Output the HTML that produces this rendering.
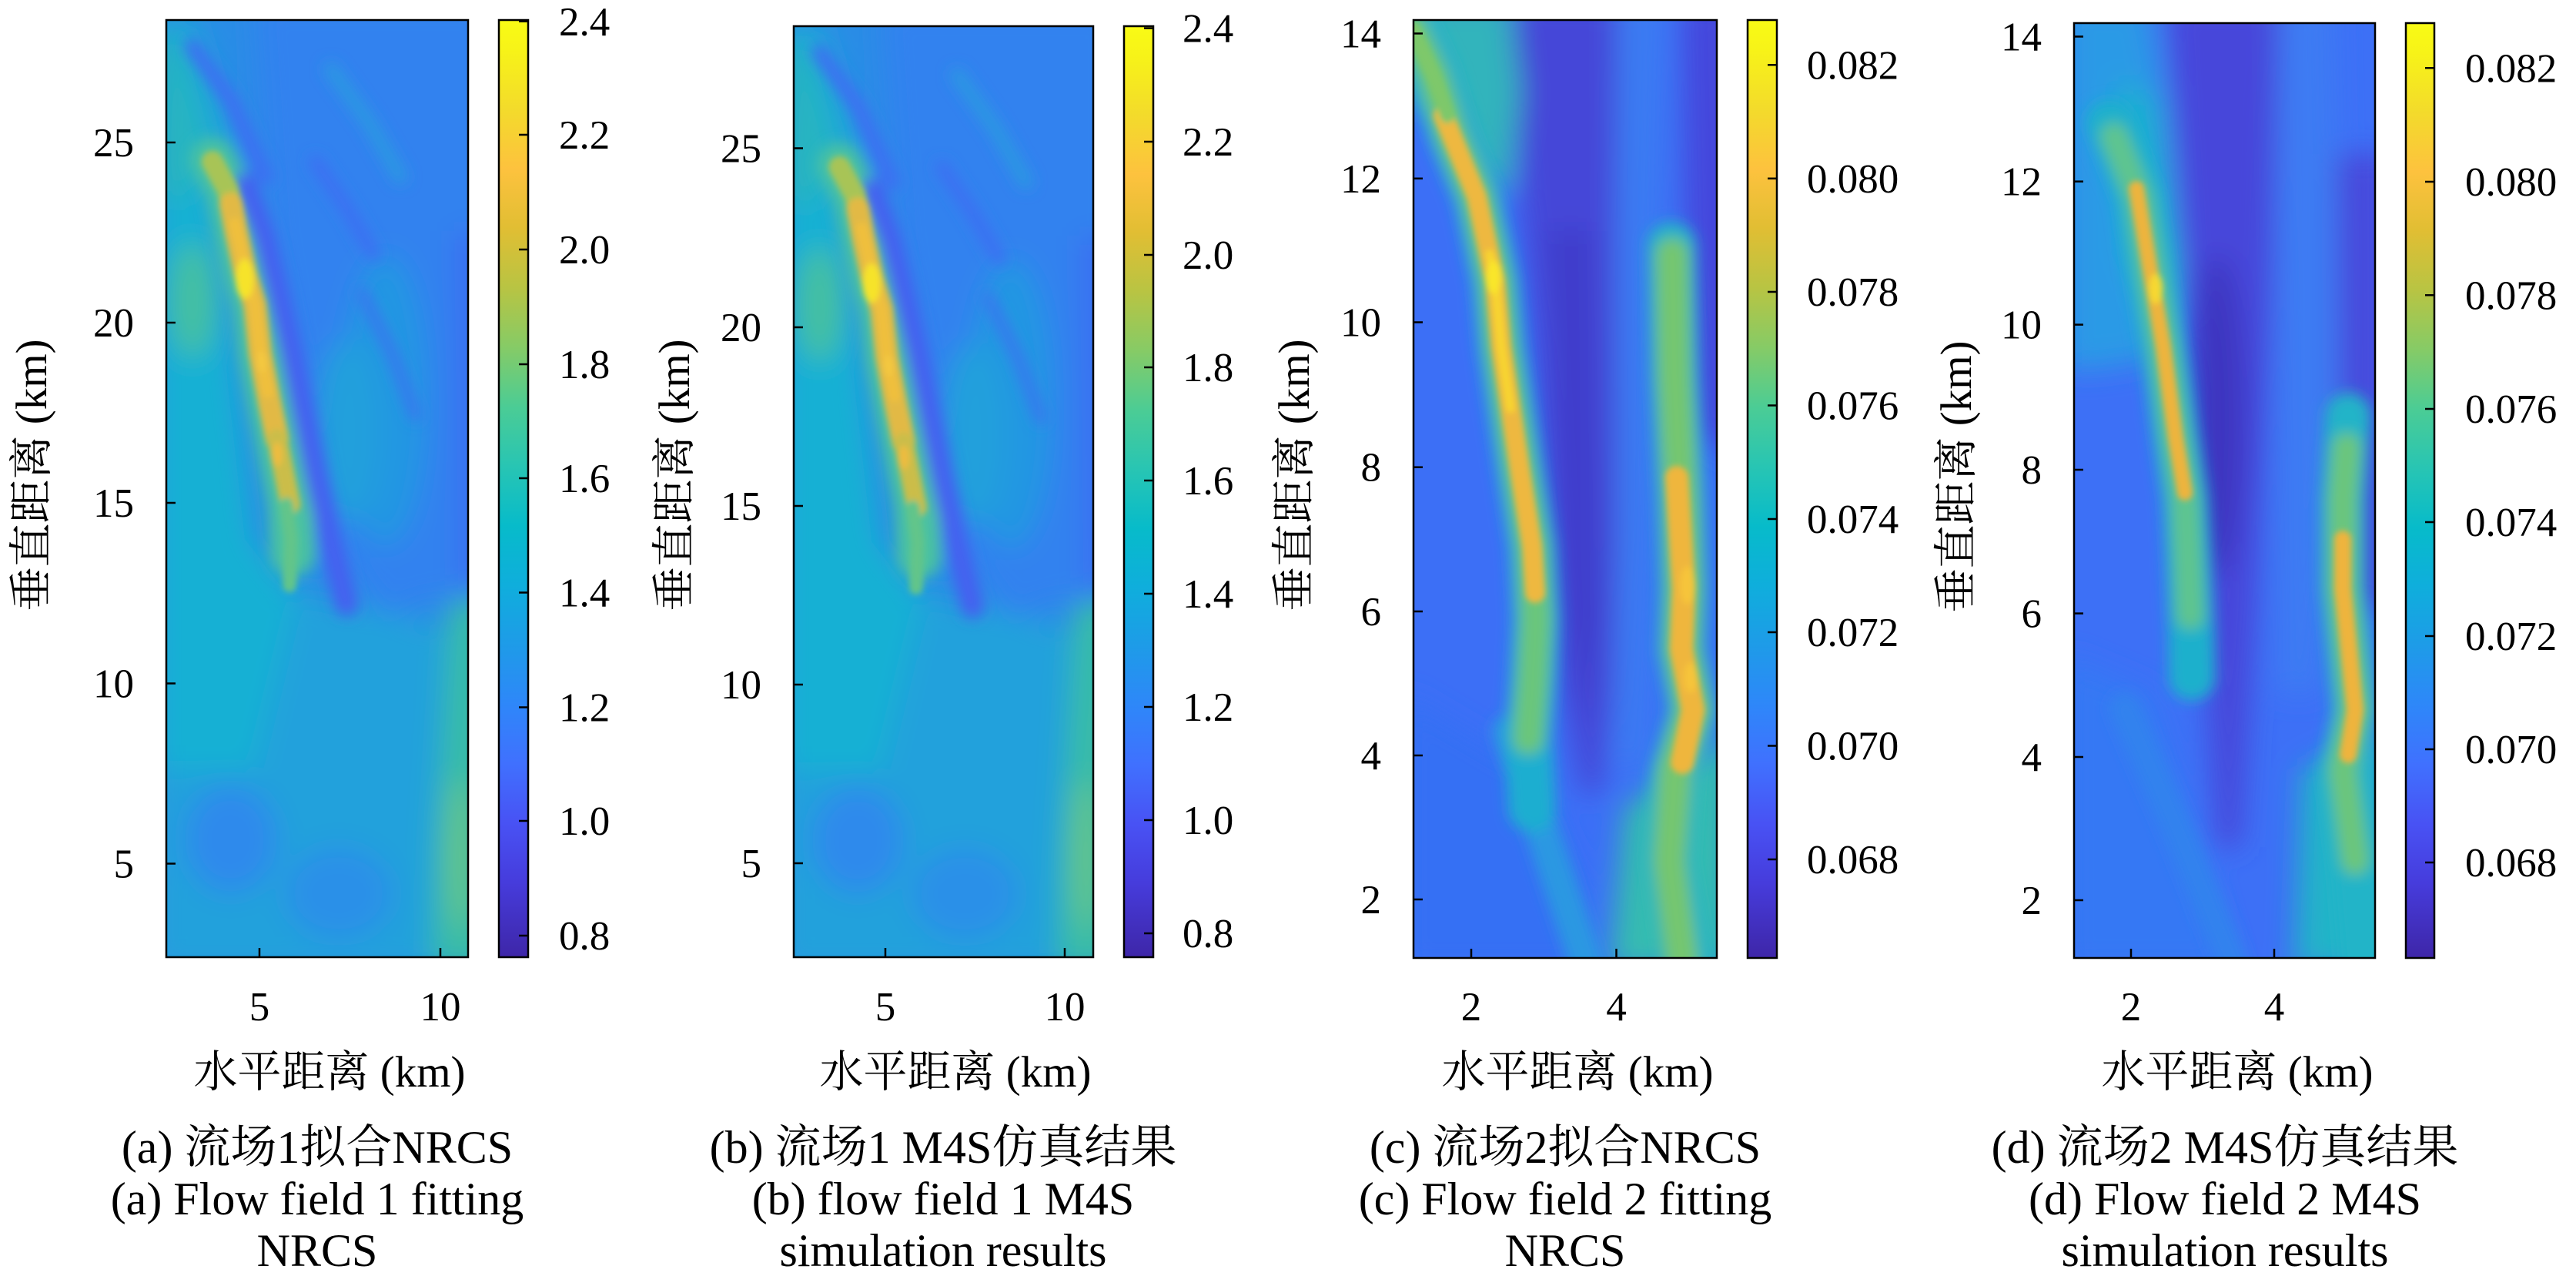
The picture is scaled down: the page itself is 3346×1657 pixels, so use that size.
<!DOCTYPE html>
<html><head><meta charset="utf-8"><style>
html,body{margin:0;padding:0;background:#fff;}
svg{display:block;font-family:"Liberation Serif","Times New Roman","DejaVu Serif","Noto Serif CJK SC","Noto Sans CJK SC",serif;}
.t{font-family:"Liberation Serif","Times New Roman","DejaVu Serif","Noto Serif CJK SC","Noto Sans CJK SC",serif;font-size:53px;fill:#000;}
.l{font-family:"Liberation Serif","Times New Roman","DejaVu Serif","Noto Serif CJK SC","Noto Sans CJK SC",serif;font-size:57px;fill:#000;}
.c{font-family:"Liberation Serif","Times New Roman","DejaVu Serif","Noto Serif CJK SC","Noto Sans CJK SC",serif;font-size:60px;fill:#000;}
</style></head><body>
<svg width="3346" height="1657" viewBox="0 0 3346 1657" xmlns="http://www.w3.org/2000/svg" font-family="Liberation Serif, Times New Roman, DejaVu Serif, Noto Serif CJK SC, Noto Sans CJK SC, serif">
<defs>
<linearGradient id="par" x1="0" y1="0" x2="0" y2="1">
<stop offset="0" stop-color="rgb(249,251,21)"/>
<stop offset="0.032" stop-color="rgb(247,243,24)"/>
<stop offset="0.095" stop-color="rgb(243,219,43)"/>
<stop offset="0.159" stop-color="rgb(253,194,62)"/>
<stop offset="0.222" stop-color="rgb(225,190,51)"/>
<stop offset="0.286" stop-color="rgb(184,196,67)"/>
<stop offset="0.349" stop-color="rgb(134,203,102)"/>
<stop offset="0.413" stop-color="rgb(75,204,149)"/>
<stop offset="0.476" stop-color="rgb(40,197,179)"/>
<stop offset="0.54" stop-color="rgb(7,187,202)"/>
<stop offset="0.603" stop-color="rgb(15,174,220)"/>
<stop offset="0.667" stop-color="rgb(30,155,232)"/>
<stop offset="0.73" stop-color="rgb(46,135,249)"/>
<stop offset="0.794" stop-color="rgb(64,112,254)"/>
<stop offset="0.857" stop-color="rgb(72,82,244)"/>
<stop offset="0.92" stop-color="rgb(70,60,220)"/>
<stop offset="1" stop-color="rgb(62,38,168)"/>
</linearGradient>
<filter id="fb" filterUnits="userSpaceOnUse" x="0" y="0" width="3346" height="1657"><feGaussianBlur stdDeviation="18"/></filter>
<filter id="fm" filterUnits="userSpaceOnUse" x="0" y="0" width="3346" height="1657"><feGaussianBlur stdDeviation="9"/></filter>
<filter id="fs" filterUnits="userSpaceOnUse" x="0" y="0" width="3346" height="1657"><feGaussianBlur stdDeviation="4"/></filter>
<clipPath id="ca"><rect x="216" y="26" width="392" height="1217"/></clipPath>
<clipPath id="cc"><rect x="1836" y="26" width="394" height="1218"/></clipPath>
<clipPath id="cd"><rect x="2694" y="30" width="391" height="1214"/></clipPath>

<g id="heatA">
<g clip-path="url(#ca)">
<rect x="216" y="26" width="392" height="1217" fill="#2a8ce6"/>
<g filter="url(#fb)">
<polygon points="330,0 640,0 640,760 500,800 420,700 350,300" fill="#3182ef"/>
<polygon points="200,720 640,830 640,1260 200,1260" fill="#21a1dc"/>
<ellipse cx="300" cy="1090" rx="60" ry="70" fill="#2d8aec"/>
<ellipse cx="440" cy="1160" rx="70" ry="60" fill="#2a90e8"/>
<polygon points="200,150 275,200 330,700 385,770 330,1000 200,1000" fill="#14b0d4"/>
<polygon points="200,26 255,26 300,180 280,260 200,210" fill="#1eaad6"/>
<ellipse cx="250" cy="390" rx="30" ry="75" fill="#45c0a0"/>
<polygon points="200,40 235,60 270,200 240,260 200,260" fill="#25b5c0"/>
<polygon points="585,780 640,780 640,1260 560,1260 565,1100" fill="#38bca8"/>
<ellipse cx="598" cy="1110" rx="14" ry="100" fill="#6cc682"/>
<polygon points="590,300 640,300 640,760 595,760" fill="#3a70f2"/>
<ellipse cx="500" cy="520" rx="55" ry="190" fill="#2497e2"/>
<ellipse cx="450" cy="560" rx="40" ry="120" fill="#20a0dc"/>
</g>
<g filter="url(#fm)">
<polyline points="250,60 300,130 345,230" fill="none" stroke="#3e6ef3" stroke-width="20" stroke-linecap="round"/>
<polyline points="410,210 450,270 485,330" fill="none" stroke="#3e6ef3" stroke-width="16" stroke-linecap="round"/>
<polyline points="430,90 480,160 520,230" fill="none" stroke="#2a98e2" stroke-width="18" stroke-linecap="round"/>
<polyline points="470,380 510,460 540,540" fill="none" stroke="#3a74f0" stroke-width="14" stroke-linecap="round"/>
<polyline points="276,208 296,247 307,302 319,357 331,396 338,459 350,522 366,600 377,655 380,720" fill="none" stroke="#4cc2a0" stroke-width="58" stroke-linecap="round"/>
<polyline points="318,240 342,305 362,385 378,455 394,535 410,615 430,705 450,785" fill="none" stroke="#4460f0" stroke-width="30" stroke-linecap="round"/>
</g>
<g filter="url(#fs)">
<polyline points="276,210 296,247 305,285" fill="none" stroke="#a8c456" stroke-width="28" stroke-linecap="round"/>
<polyline points="300,265 307,302 319,357 331,396 338,459 350,522 360,570" fill="none" stroke="#e2b944" stroke-width="30" stroke-linecap="round"/>
<polyline points="360,570 366,600 377,655" fill="none" stroke="#cbbd48" stroke-width="26" stroke-linecap="round"/>
<polyline points="305,290 312,320 319,357 331,396 338,459 348,510" fill="none" stroke="#f0c03e" stroke-width="14" stroke-linecap="round"/>
<ellipse cx="318" cy="362" rx="12" ry="26" fill="#f6e32c"/>
<ellipse cx="340" cy="470" rx="7" ry="14" fill="#f4c840"/>
<ellipse cx="360" cy="590" rx="7" ry="16" fill="#eebc40"/>
<polyline points="372,655 378,700 376,760" fill="none" stroke="#62c58a" stroke-width="18" stroke-linecap="round"/>
</g>
</g>
</g>
</defs>
<rect x="0" y="0" width="3346" height="1657" fill="#fff"/>

<!-- Panel a -->
<use href="#heatA"/>
<rect x="216" y="26" width="392" height="1217" fill="none" stroke="#000" stroke-width="2.5"/>
<g stroke="#000" stroke-width="2.5">
<line x1="216" y1="1121.5" x2="228" y2="1121.5"/><line x1="216" y1="887.5" x2="228" y2="887.5"/><line x1="216" y1="653" x2="228" y2="653"/><line x1="216" y1="419" x2="228" y2="419"/><line x1="216" y1="185" x2="228" y2="185"/>
<line x1="337" y1="1243" x2="337" y2="1231"/><line x1="572" y1="1243" x2="572" y2="1231"/>
</g>
<g class="t" text-anchor="end">
<text x="174" y="1139.5">5</text><text x="174" y="905.5">10</text><text x="174" y="671">15</text><text x="174" y="437">20</text><text x="174" y="203">25</text>
</g>
<g class="t" text-anchor="middle"><text x="337" y="1325">5</text><text x="572" y="1325">10</text></g>
<rect x="648" y="26" width="38" height="1217" fill="url(#par)" stroke="#000" stroke-width="2.5"/>
<g stroke="#000" stroke-width="2.5">
<line x1="686" y1="27.8" x2="674" y2="27.8"/><line x1="686" y1="175" x2="674" y2="175"/><line x1="686" y1="324" x2="674" y2="324"/><line x1="686" y1="473" x2="674" y2="473"/><line x1="686" y1="621" x2="674" y2="621"/><line x1="686" y1="769.5" x2="674" y2="769.5"/><line x1="686" y1="918.5" x2="674" y2="918.5"/><line x1="686" y1="1066" x2="674" y2="1066"/><line x1="686" y1="1215" x2="674" y2="1215"/>
</g>
<g class="t">
<text x="726" y="46">2.4</text><text x="726" y="193">2.2</text><text x="726" y="342">2.0</text><text x="726" y="491">1.8</text><text x="726" y="639">1.6</text><text x="726" y="787.5">1.4</text><text x="726" y="936.5">1.2</text><text x="726" y="1084">1.0</text><text x="726" y="1233">0.8</text>
</g>
<text class="l" x="428" y="1411" text-anchor="middle">水平距离 (km)</text>
<text class="l" text-anchor="middle" transform="translate(60,617) rotate(-90)">垂直距离 (km)</text>
<g class="c" text-anchor="middle">
<text x="412" y="1510">(a) 流场1拟合NRCS</text>
<text x="412" y="1577">(a) Flow field 1 fitting</text>
<text x="412" y="1644">NRCS</text>
</g>

<!-- Panel b -->
<use href="#heatA" transform="matrix(0.9923 0 0 0.99343 816.66 8.17)"/>
<rect x="1031" y="34" width="389" height="1209" fill="none" stroke="#000" stroke-width="2.5"/>
<g stroke="#000" stroke-width="2.5">
<line x1="1031" y1="1121" x2="1043" y2="1121"/><line x1="1031" y1="889" x2="1043" y2="889"/><line x1="1031" y1="657" x2="1043" y2="657"/><line x1="1031" y1="425" x2="1043" y2="425"/><line x1="1031" y1="192.5" x2="1043" y2="192.5"/>
<line x1="1150" y1="1243" x2="1150" y2="1231"/><line x1="1383" y1="1243" x2="1383" y2="1231"/>
</g>
<g class="t" text-anchor="end">
<text x="989" y="1139">5</text><text x="989" y="907">10</text><text x="989" y="675">15</text><text x="989" y="443">20</text><text x="989" y="210.5">25</text>
</g>
<g class="t" text-anchor="middle"><text x="1150" y="1325">5</text><text x="1383" y="1325">10</text></g>
<rect x="1460" y="34" width="38" height="1209" fill="url(#par)" stroke="#000" stroke-width="2.5"/>
<g stroke="#000" stroke-width="2.5">
<line x1="1498" y1="36.7" x2="1486" y2="36.7"/><line x1="1498" y1="184" x2="1486" y2="184"/><line x1="1498" y1="331" x2="1486" y2="331"/><line x1="1498" y1="477" x2="1486" y2="477"/><line x1="1498" y1="624" x2="1486" y2="624"/><line x1="1498" y1="771" x2="1486" y2="771"/><line x1="1498" y1="918" x2="1486" y2="918"/><line x1="1498" y1="1065" x2="1486" y2="1065"/><line x1="1498" y1="1212" x2="1486" y2="1212"/>
</g>
<g class="t">
<text x="1536" y="54.7">2.4</text><text x="1536" y="202">2.2</text><text x="1536" y="349">2.0</text><text x="1536" y="495">1.8</text><text x="1536" y="642">1.6</text><text x="1536" y="789">1.4</text><text x="1536" y="936">1.2</text><text x="1536" y="1083">1.0</text><text x="1536" y="1230">0.8</text>
</g>
<text class="l" x="1241" y="1411" text-anchor="middle">水平距离 (km)</text>
<text class="l" text-anchor="middle" transform="translate(895,617) rotate(-90)">垂直距离 (km)</text>
<g class="c" text-anchor="middle">
<text x="1225" y="1510">(b) 流场1 M4S仿真结果</text>
<text x="1225" y="1577">(b) flow field 1 M4S</text>
<text x="1225" y="1644">simulation results</text>
</g>

<!-- Panel c -->
<g clip-path="url(#cc)">
<rect x="1836" y="26" width="394" height="1218" fill="#3c6ff6"/>
<g filter="url(#fb)">
<polygon points="1965,0 2100,0 2098,300 2100,700 2095,900 2080,1030 2055,1030 2025,880 2010,700 1995,450 1975,250" fill="#4446d8"/>
<polygon points="2010,300 2070,300 2080,800 2060,950 2030,800" fill="#4039c8" opacity="0.8"/>
<polygon points="2185,0 2260,0 2260,600 2205,560 2190,300" fill="#4547dc"/>
<polygon points="2100,0 2160,0 2150,600 2140,1000 2100,1000" fill="#3a7cf2"/>
<polygon points="1820,0 1960,0 1975,120 1960,250 1920,230 1880,150 1820,120" fill="#30b4bc"/>
<polygon points="1820,900 1990,1000 2060,1150 2060,1260 1820,1260" fill="#3470f4"/>
<polygon points="2110,1050 2250,950 2250,1260 2090,1260" fill="#34bcb0"/>
</g>
<g filter="url(#fm)">
<polyline points="1960,950 2010,1100 2060,1250" fill="none" stroke="#2a98e2" stroke-width="44" stroke-linecap="round"/>
<polyline points="1830,30 1862,98 1886,177 1918,255 1942,365 1950,451 1962,530 1975,616 1990,710 1995,804 1991,883 1985,960 1990,1050" fill="none" stroke="#1eaed0" stroke-width="62" stroke-linecap="round"/>
<polyline points="2171,320 2175,490 2183,647 2187,765 2184,843 2199,922 2176,1000 2168,1118 2192,1250" fill="none" stroke="#22b2c8" stroke-width="64" stroke-linecap="round"/>
<polyline points="1832,34 1862,98 1886,177 1918,255 1942,365 1950,451 1962,530 1975,616 1990,710 1995,804 1991,883 1985,960" fill="none" stroke="#6ac67a" stroke-width="40" stroke-linecap="round"/>
<polyline points="2172,330 2175,490 2183,647 2187,765 2184,843 2199,922 2176,1000 2168,1118 2185,1250" fill="none" stroke="#74c670" stroke-width="42" stroke-linecap="round"/>
</g>
<g filter="url(#fs)">
<polyline points="1875,150 1886,177 1918,255 1942,365 1950,451 1962,530 1975,616 1990,710 1994,770" fill="none" stroke="#eeb840" stroke-width="26" stroke-linecap="round"/>
<polyline points="1935,330 1942,365 1950,451 1962,530" fill="none" stroke="#f8d52e" stroke-width="12" stroke-linecap="round"/>
<ellipse cx="1940" cy="360" rx="10" ry="22" fill="#f9e62a"/>
<polyline points="1836,40 1862,98 1880,150" fill="none" stroke="#7ec86a" stroke-width="20" stroke-linecap="round"/>
<polyline points="2178,620 2187,765 2184,843 2199,922 2185,990" fill="none" stroke="#efb63c" stroke-width="30" stroke-linecap="round"/>
<ellipse cx="2192" cy="760" rx="10" ry="25" fill="#f6c43a"/>
<ellipse cx="2196" cy="880" rx="9" ry="20" fill="#f6c43a"/>
</g>
</g>
<rect x="1836" y="26" width="394" height="1218" fill="none" stroke="#000" stroke-width="2.5"/>
<g stroke="#000" stroke-width="2.5">
<line x1="1836" y1="43.5" x2="1848" y2="43.5"/><line x1="1836" y1="231.8" x2="1848" y2="231.8"/><line x1="1836" y1="418.5" x2="1848" y2="418.5"/><line x1="1836" y1="606.7" x2="1848" y2="606.7"/><line x1="1836" y1="794" x2="1848" y2="794"/><line x1="1836" y1="981" x2="1848" y2="981"/><line x1="1836" y1="1168" x2="1848" y2="1168"/>
<line x1="1911" y1="1244" x2="1911" y2="1232"/><line x1="2099.5" y1="1244" x2="2099.5" y2="1232"/>
</g>
<g class="t" text-anchor="end">
<text x="1794" y="61.5">14</text><text x="1794" y="249.8">12</text><text x="1794" y="436.5">10</text><text x="1794" y="624.7">8</text><text x="1794" y="812">6</text><text x="1794" y="999">4</text><text x="1794" y="1186">2</text>
</g>
<g class="t" text-anchor="middle"><text x="1911" y="1325">2</text><text x="2099.5" y="1325">4</text></g>
<rect x="2270" y="26" width="38" height="1218" fill="url(#par)" stroke="#000" stroke-width="2.5"/>
<g stroke="#000" stroke-width="2.5">
<line x1="2308" y1="84.3" x2="2296" y2="84.3"/><line x1="2308" y1="231.8" x2="2296" y2="231.8"/><line x1="2308" y1="379" x2="2296" y2="379"/><line x1="2308" y1="526.5" x2="2296" y2="526.5"/><line x1="2308" y1="674" x2="2296" y2="674"/><line x1="2308" y1="821" x2="2296" y2="821"/><line x1="2308" y1="968.5" x2="2296" y2="968.5"/><line x1="2308" y1="1116" x2="2296" y2="1116"/>
</g>
<g class="t">
<text x="2347" y="102.3">0.082</text><text x="2347" y="249.8">0.080</text><text x="2347" y="397">0.078</text><text x="2347" y="544.5">0.076</text><text x="2347" y="692">0.074</text><text x="2347" y="839">0.072</text><text x="2347" y="986.5">0.070</text><text x="2347" y="1134">0.068</text>
</g>
<text class="l" x="2049" y="1411" text-anchor="middle">水平距离 (km)</text>
<text class="l" text-anchor="middle" transform="translate(1700,617) rotate(-90)">垂直距离 (km)</text>
<g class="c" text-anchor="middle">
<text x="2033" y="1510">(c) 流场2拟合NRCS</text>
<text x="2033" y="1577">(c) Flow field 2 fitting</text>
<text x="2033" y="1644">NRCS</text>
</g>

<!-- Panel d -->
<g clip-path="url(#cd)">
<rect x="2694" y="30" width="391" height="1214" fill="#3d70f6"/>
<g filter="url(#fb)">
<polygon points="2680,0 2790,0 2815,150 2830,400 2790,470 2720,480 2680,480" fill="#2a9ae6"/>
<polygon points="2750,100 2800,130 2830,350 2800,420 2760,330" fill="#1fb0d0"/>
<polygon points="2815,0 2960,0 2950,400 2930,800 2910,1100 2880,1100 2860,800 2840,400" fill="#4646da"/>
<ellipse cx="2880" cy="540" rx="35" ry="210" fill="#3e36bf"/>
<polygon points="2960,0 3030,0 3040,500 3010,900 2960,900" fill="#3d7bf3"/>
<polygon points="3035,200 3100,200 3100,800 3040,780" fill="#4749dc"/>
<polygon points="2680,850 2800,900 2900,1260 2680,1260" fill="#3478f4"/>
<polygon points="2990,1000 3100,950 3100,1260 2980,1260" fill="#20b4c8"/>
</g>
<g filter="url(#fm)">
<polyline points="2760,920 2830,1080 2900,1250" fill="none" stroke="#3082ee" stroke-width="40" stroke-linecap="round"/>
<polyline points="2740,160 2778,255 2794,357 2810,451 2826,569 2838,647 2842,726 2846,820 2847,880" fill="none" stroke="#1fb0cc" stroke-width="60" stroke-linecap="round"/>
<polyline points="3050,540 3043,647 3043,765 3051,843 3059,922 3043,1000 3059,1118 3070,1250" fill="none" stroke="#22b4c8" stroke-width="60" stroke-linecap="round"/>
<polyline points="2746,177 2778,255 2794,357 2810,451 2826,569 2838,647 2842,726 2845,800" fill="none" stroke="#5fc48e" stroke-width="36" stroke-linecap="round"/>
<polyline points="3048,580 3043,647 3043,765 3051,843 3059,922 3043,1000 3059,1118" fill="none" stroke="#6cc67a" stroke-width="36" stroke-linecap="round"/>
</g>
<g filter="url(#fs)">
<polyline points="2775,245 2794,357 2810,451 2826,569 2838,640" fill="none" stroke="#edb43e" stroke-width="20" stroke-linecap="round"/>
<ellipse cx="2800" cy="375" rx="9" ry="20" fill="#f6d830"/>
<polyline points="3043,700 3043,765 3051,843 3059,922 3050,980" fill="none" stroke="#eeb43c" stroke-width="22" stroke-linecap="round"/>
</g>
</g>
<rect x="2694" y="30" width="391" height="1214" fill="none" stroke="#000" stroke-width="2.5"/>
<g stroke="#000" stroke-width="2.5">
<line x1="2694" y1="47.5" x2="2706" y2="47.5"/><line x1="2694" y1="235.7" x2="2706" y2="235.7"/><line x1="2694" y1="421.6" x2="2706" y2="421.6"/><line x1="2694" y1="610" x2="2706" y2="610"/><line x1="2694" y1="796.6" x2="2706" y2="796.6"/><line x1="2694" y1="983" x2="2706" y2="983"/><line x1="2694" y1="1169" x2="2706" y2="1169"/>
<line x1="2768" y1="1244" x2="2768" y2="1232"/><line x1="2954" y1="1244" x2="2954" y2="1232"/>
</g>
<g class="t" text-anchor="end">
<text x="2652" y="65.5">14</text><text x="2652" y="253.7">12</text><text x="2652" y="439.6">10</text><text x="2652" y="628">8</text><text x="2652" y="814.6">6</text><text x="2652" y="1001">4</text><text x="2652" y="1187">2</text>
</g>
<g class="t" text-anchor="middle"><text x="2768" y="1325">2</text><text x="2954" y="1325">4</text></g>
<rect x="3125" y="30" width="37" height="1214" fill="url(#par)" stroke="#000" stroke-width="2.5"/>
<g stroke="#000" stroke-width="2.5">
<line x1="3162" y1="88.3" x2="3150" y2="88.3"/><line x1="3162" y1="236" x2="3150" y2="236"/><line x1="3162" y1="383.3" x2="3150" y2="383.3"/><line x1="3162" y1="531" x2="3150" y2="531"/><line x1="3162" y1="678" x2="3150" y2="678"/><line x1="3162" y1="826" x2="3150" y2="826"/><line x1="3162" y1="973" x2="3150" y2="973"/><line x1="3162" y1="1120" x2="3150" y2="1120"/>
</g>
<g class="t">
<text x="3202" y="106.3">0.082</text><text x="3202" y="254">0.080</text><text x="3202" y="401.3">0.078</text><text x="3202" y="549">0.076</text><text x="3202" y="696">0.074</text><text x="3202" y="844">0.072</text><text x="3202" y="991">0.070</text><text x="3202" y="1138">0.068</text>
</g>
<text class="l" x="2906" y="1411" text-anchor="middle">水平距离 (km)</text>
<text class="l" text-anchor="middle" transform="translate(2560,619) rotate(-90)">垂直距离 (km)</text>
<g class="c" text-anchor="middle">
<text x="2890" y="1510">(d) 流场2 M4S仿真结果</text>
<text x="2890" y="1577">(d) Flow field 2 M4S</text>
<text x="2890" y="1644">simulation results</text>
</g>
</svg>
</body></html>
